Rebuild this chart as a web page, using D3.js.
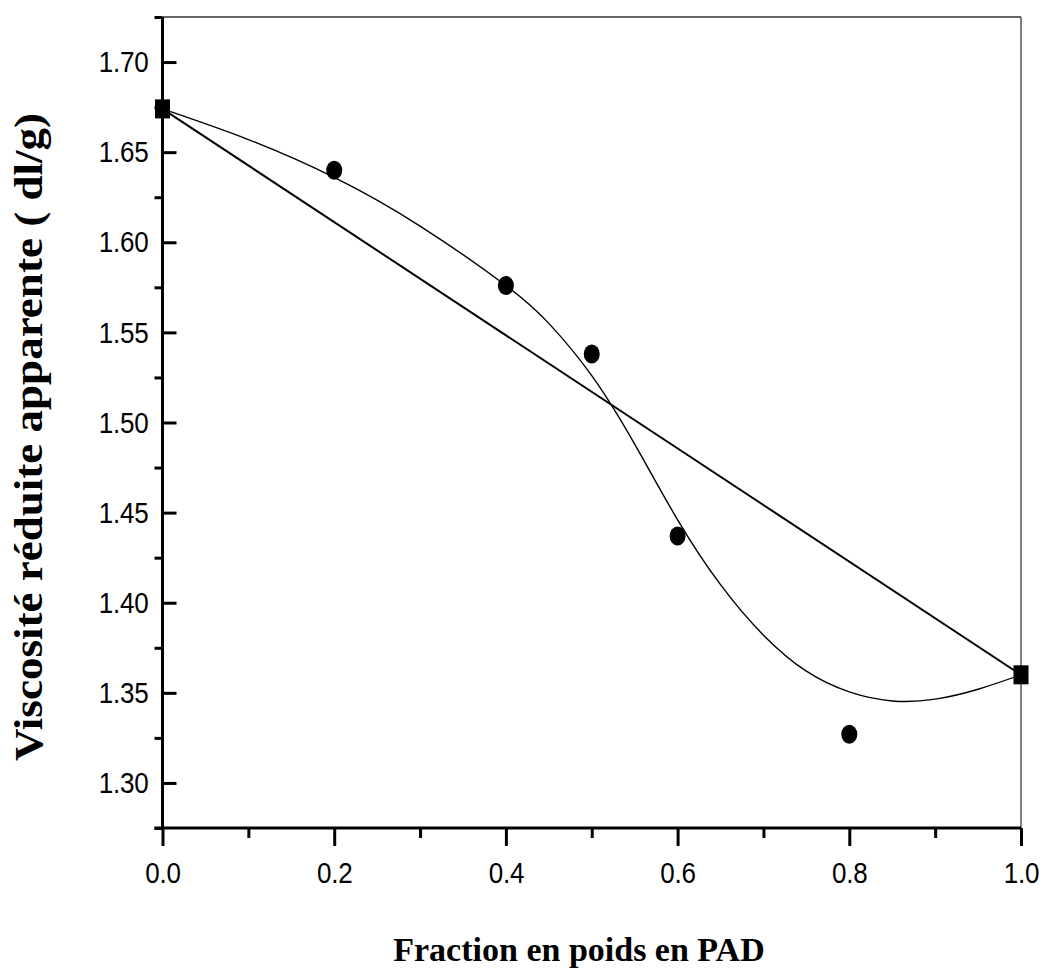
<!DOCTYPE html>
<html>
<head>
<meta charset="utf-8">
<script src="https://cdn.jsdelivr.net/npm/d3@7/dist/d3.min.js"></script>
<style>
  html, body { margin: 0; padding: 0; background: #fff; }
  svg { display: block; }
</style>
</head>
<body>
<svg id="chart" width="1045" height="970"></svg>
<script>
// ---- data ----
const xMajorTicks = [0.0, 0.2, 0.4, 0.6, 0.8, 1.0];
const xMinorTicks = [0.1, 0.3, 0.5, 0.7, 0.9];
const yMajorTicks = [1.30, 1.35, 1.40, 1.45, 1.50, 1.55, 1.60, 1.65, 1.70];
const yMinorTicks = [1.275, 1.325, 1.375, 1.425, 1.475, 1.525, 1.575, 1.625, 1.675, 1.725];

const circleX = [0.2, 0.4, 0.5, 0.6, 0.8];
const circleY = [1.640, 1.576, 1.538, 1.437, 1.327];

const squareX = [0.0, 1.0];
const squareY = [1.674, 1.360];

const curveX = [0.0, 0.1, 0.2, 0.3, 0.4, 0.45, 0.5, 0.55, 0.6, 0.65, 0.7, 0.75, 0.8, 0.85, 0.9, 0.95, 1.0];
const curveY = [1.674, 1.657, 1.636, 1.609, 1.576, 1.555, 1.526, 1.488, 1.446, 1.410, 1.382, 1.362, 1.3505, 1.3455, 1.3465, 1.352, 1.360];

const xTitle = "Fraction en poids en PAD";
const yTitle = "Viscosité réduite apparente ( dl/g)";

// ---- layout ----
const svg = d3.select("#chart");
const mLeft = 162.5, mRight = 1021, mTop = 17, mBottom = 828;

const x = d3.scaleLinear().domain([0, 1]).range([mLeft, mRight]);
const y = d3.scaleLinear().domain([1.275, 1.725]).range([mBottom, mTop]);

const tickFont = "'Liberation Sans', Arial, sans-serif";
const titleFont = "'Liberation Serif', 'Times New Roman', serif";
const vStretch = 1.16;

// top & right frame (thin)
svg.append("line").attr("x1", mLeft).attr("x2", mRight).attr("y1", mTop).attr("y2", mTop)
  .attr("stroke", "#333").attr("stroke-width", 1.5);
svg.append("line").attr("x1", mRight).attr("x2", mRight).attr("y1", mTop).attr("y2", mBottom)
  .attr("stroke", "#555").attr("stroke-width", 1.5);

// Y axis majors (inward) with labels
const yMaj = svg.append("g").attr("transform", `translate(${mLeft},0)`)
  .call(d3.axisLeft(y).tickValues(yMajorTicks).tickSizeInner(-14).tickSizeOuter(0)
    .tickPadding(14).tickFormat(d3.format(".2f")));
// Y axis minors (outward)
const yMin = svg.append("g").attr("transform", `translate(${mLeft},0)`)
  .call(d3.axisLeft(y).tickValues(yMinorTicks).tickSizeInner(8).tickSizeOuter(0).tickFormat(""));

// X axis majors (outward) with labels
const xMaj = svg.append("g").attr("transform", `translate(0,${mBottom})`)
  .call(d3.axisBottom(x).tickValues(xMajorTicks).tickSizeInner(18).tickSizeOuter(0)
    .tickPadding(11).tickFormat(d3.format(".1f")));
const xMin = svg.append("g").attr("transform", `translate(0,${mBottom})`)
  .call(d3.axisBottom(x).tickValues(xMinorTicks).tickSizeInner(10).tickSizeOuter(0).tickFormat(""));

[yMaj, yMin, xMaj, xMin].forEach(g => {
  g.select(".domain").remove();
  g.selectAll(".tick line").attr("stroke", "#000").attr("stroke-width", 3);
  g.selectAll(".tick text").attr("fill", "#000")
    .attr("transform", `scale(1,${vStretch})`)
    .style("font-family", tickFont).style("font-size", "26px").style("letter-spacing", "-0.2px");
});

// axis lines (thick)
svg.append("line").attr("x1", mLeft).attr("x2", mLeft).attr("y1", y(1.725)).attr("y2", mBottom)
  .attr("stroke", "#000").attr("stroke-width", 3);
svg.append("line").attr("x1", mLeft - 8).attr("x2", mRight).attr("y1", mBottom).attr("y2", mBottom)
  .attr("stroke", "#000").attr("stroke-width", 3);

// straight line between squares
const sqData = squareX.map((v, i) => [v, squareY[i]]);
svg.append("path").datum(sqData)
  .attr("d", d3.line().x(d => x(d[0])).y(d => y(d[1])))
  .attr("fill", "none").attr("stroke", "#000").attr("stroke-width", 2);

// fitted curve
const cData = curveX.map((v, i) => [v, curveY[i]]);
svg.append("path").datum(cData)
  .attr("d", d3.line().curve(d3.curveNatural).x(d => x(d[0])).y(d => y(d[1])))
  .attr("fill", "none").attr("stroke", "#000").attr("stroke-width", 1.4);

// circles
svg.append("g").selectAll("ellipse").data(circleX.map((v, i) => [v, circleY[i]])).join("ellipse")
  .attr("cx", d => x(d[0])).attr("cy", d => y(d[1])).attr("rx", 8).attr("ry", 9.5).attr("fill", "#000");

// squares
svg.append("g").selectAll("rect").data(sqData).join("rect")
  .attr("x", d => x(d[0]) - 7.5).attr("y", d => y(d[1]) - 9.5)
  .attr("width", 15).attr("height", 19).attr("fill", "#000");

// titles
svg.append("text").attr("x", 579).attr("y", 961).attr("text-anchor", "middle")
  .style("font-family", titleFont).style("font-weight", "bold").style("font-size", "34px")
  .text(xTitle);

svg.append("text").attr("transform", "translate(42,437) rotate(-90)").attr("text-anchor", "middle")
  .attr("textLength", 648).attr("lengthAdjust", "spacingAndGlyphs")
  .style("font-family", titleFont).style("font-weight", "bold").style("font-size", "39px")
  .text(yTitle);
</script>
</body>
</html>
